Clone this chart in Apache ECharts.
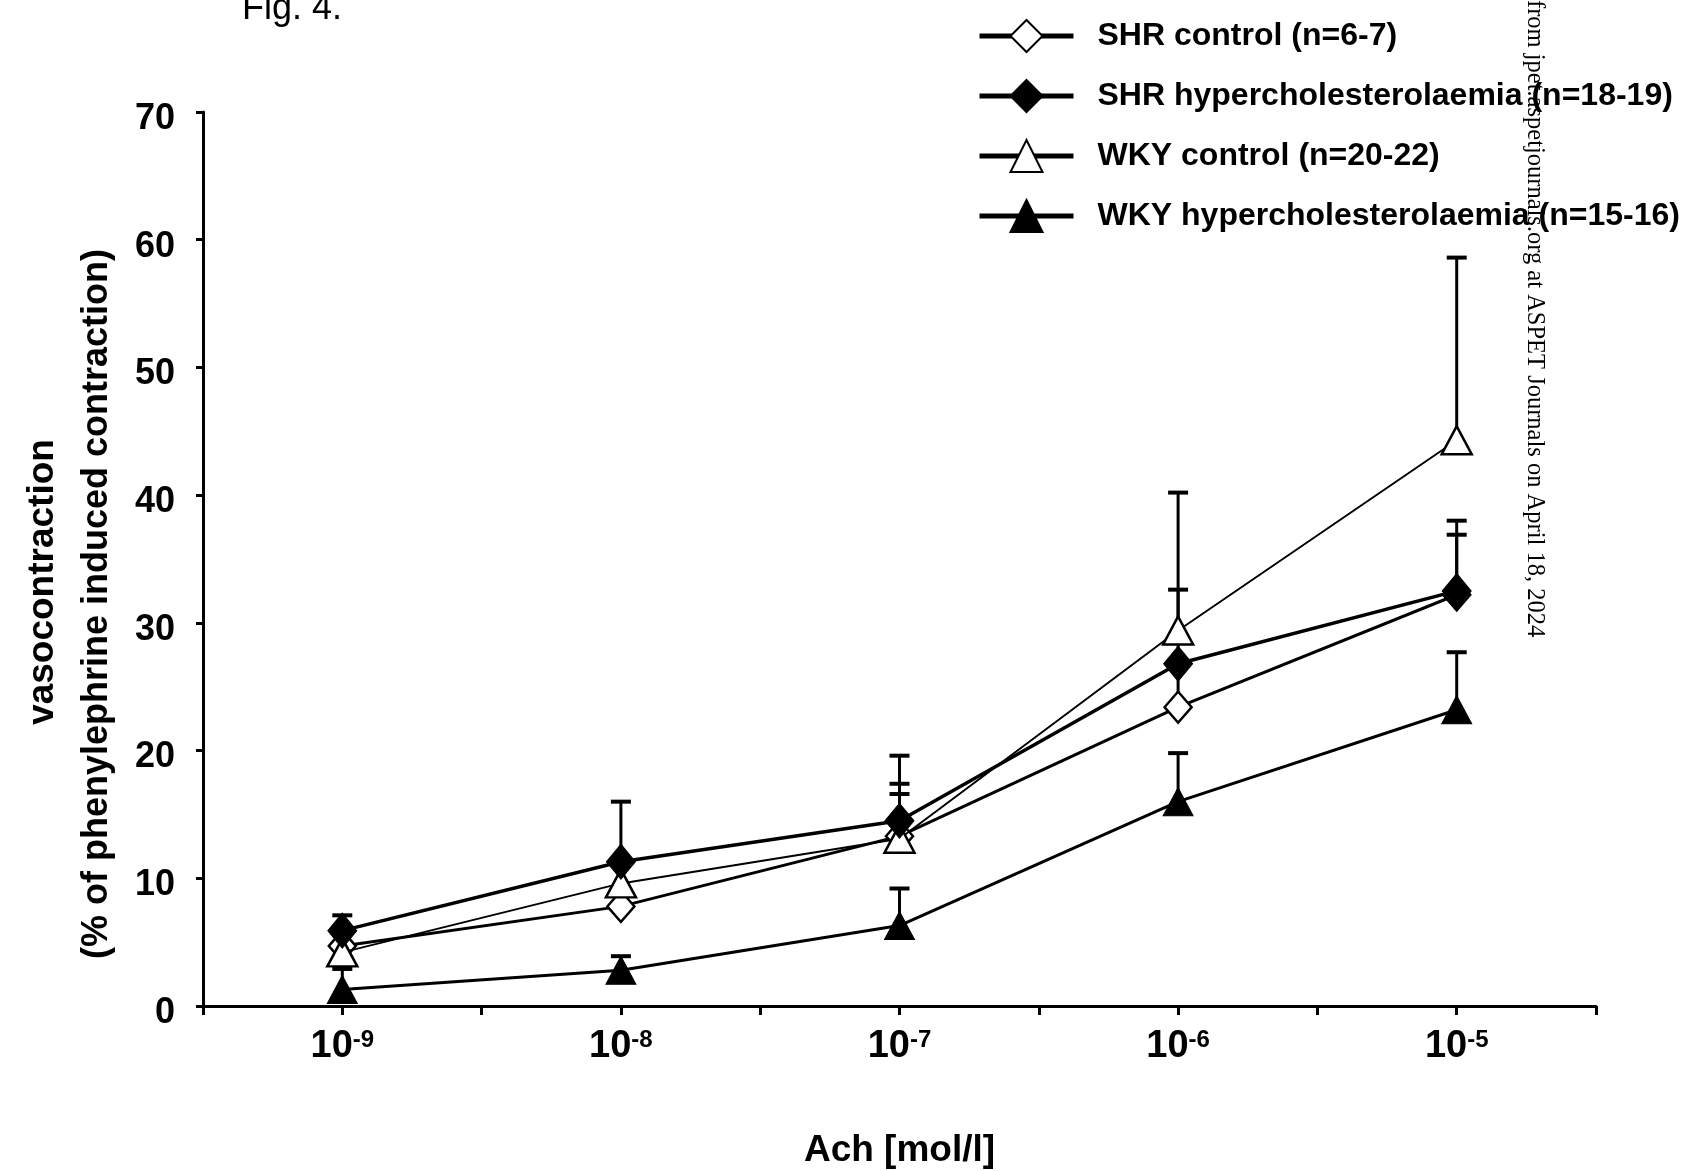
<!DOCTYPE html>
<html>
<head>
<meta charset="utf-8">
<script src="https://cdn.jsdelivr.net/npm/echarts@6/dist/echarts.min.js"></script>
<style>
html,body{margin:0;padding:0;background:#fff;}
#chart{width:1684px;height:1171px;}
</style>
</head>
<body>
<div id="chart"></div>
<script>
// log10 of Ach concentration (mol/l)
var logConc = [-9, -8, -7, -6, -5];
var tickExponents = ['-9', '-8', '-7', '-6', '-5'];

var seriesNames = [
  'SHR control (n=6-7)',
  'SHR hypercholesterolaemia (n=18-19)',
  'WKY control (n=20-22)',
  'WKY hypercholesterolaemia (n=15-16)'
];

// mean values (% of phenylephrine induced contraction)
var shrControl = [4.7, 7.8, 13.3, 23.4, 32.2];
var shrHyper   = [5.9, 11.3, 14.5, 26.8, 32.5];
var wkyControl = [4.2, 9.6, 13.1, 29.4, 44.3];
var wkyHyper   = [1.3, 2.8, 6.3, 16.0, 23.2];

// upper end of error bars (null = not visible)
var shrControlTop = [null, null, 19.6, 32.6, 38.0];
var shrHyperTop   = [7.1, 16.0, 17.4, null, 36.9];
var wkyControlTop = [null, null, 16.6, 40.2, 58.6];
var wkyHyperTop   = [2.9, 3.9, 9.2, 19.8, 27.7];

var FONT = '"Liberation Sans", Arial, sans-serif';

function pairs(vals){
  var out = [];
  for (var i = 0; i < logConc.length; i++) out.push([logConc[i], vals[i]]);
  return out;
}
function errData(vals, tops){
  var out = [];
  for (var i = 0; i < logConc.length; i++){
    if (tops[i] != null) out.push([logConc[i], vals[i], tops[i]]);
  }
  return out;
}
function errRender(params, api){
  var x = api.value(0);
  var p0 = api.coord([x, api.value(1)]);
  var p1 = api.coord([x, api.value(2)]);
  return {
    type: 'group',
    children: [
      {type: 'line', shape: {x1: p0[0], y1: p0[1], x2: p1[0], y2: p1[1]}, style: {stroke: '#000', lineWidth: 3}},
      {type: 'line', shape: {x1: p1[0] - 10, y1: p1[1], x2: p1[0] + 10, y2: p1[1]}, style: {stroke: '#000', lineWidth: 4}}
    ]
  };
}
function errSeries(vals, tops){
  return {
    type: 'custom', renderItem: errRender, data: errData(vals, tops),
    encode: {x: 0, y: [1, 2]}, z: 1, silent: true
  };
}

var chart = echarts.init(document.getElementById('chart'));
chart.setOption({
  animation: false,
  backgroundColor: '#fff',
  grid: {left: 203, right: 88, top: 112, bottom: 165, outerBoundsMode: 'none', containLabel: false},
  legend: {
    data: seriesNames,
    orient: 'vertical',
    left: 972, top: 14,
    itemWidth: 94, itemHeight: 40, itemGap: 26,
    lineStyle: {width: 5},
    textStyle: {fontFamily: FONT, fontSize: 32, fontWeight: 'bold', color: '#000', padding: [0, 0, 0, 19]}
  },
  xAxis: {
    type: 'value', min: -9.5, max: -4.5, interval: 0.5,
    splitLine: {show: false},
    axisLine: {lineStyle: {color: '#000', width: 3}},
    axisTick: {length: 9, lineStyle: {color: '#000', width: 3}},
    axisLabel: {
      margin: 22,
      formatter: function(v){
        var i = logConc.indexOf(v);
        return i < 0 ? '' : '{a|10}{b|' + tickExponents[i] + '}';
      },
      rich: {
        a: {fontFamily: FONT, fontSize: 38, fontWeight: 'bold', color: '#000', lineHeight: 38},
        b: {fontFamily: FONT, fontSize: 24, fontWeight: 'bold', color: '#000', lineHeight: 24, verticalAlign: 'top'}
      }
    },
    name: 'Ach [mol/l]', nameLocation: 'middle', nameGap: 126,
    nameTextStyle: {fontFamily: FONT, fontSize: 37, fontWeight: 'bold', color: '#000'}
  },
  yAxis: {
    type: 'value', min: 0, max: 70, interval: 10,
    splitLine: {show: false},
    axisLine: {show: true, lineStyle: {color: '#000', width: 3}},
    axisTick: {show: true, length: 7, lineStyle: {color: '#000', width: 3}},
    axisLabel: {fontFamily: FONT, fontSize: 36, fontWeight: 'bold', color: '#000', margin: 28,
      verticalAlign: 'top', lineHeight: 14}
  },
  graphic: [
    {type: 'text', x: 242, y: 9, style: {text: 'Fig. 4.', font: '36px ' + FONT, fill: '#000', verticalAlign: 'middle'}},
    {type: 'text', x: 43, y: 582, rotation: Math.PI / 2,
      style: {text: 'vasocontraction', font: 'bold 37px ' + FONT, fill: '#000', align: 'center', verticalAlign: 'middle'}},
    {type: 'text', x: 97, y: 604, rotation: Math.PI / 2,
      style: {text: '(% of phenylephrine induced contraction)', font: 'bold 36px ' + FONT, fill: '#000', align: 'center', verticalAlign: 'middle'}},
    {type: 'text', x: 1534, y: 0, rotation: -Math.PI / 2, z: 100,
      style: {text: 'from jpet.aspetjournals.org at ASPET Journals on April 18, 2024', font: '24.5px "Liberation Serif", "Times New Roman", serif', fill: '#000', align: 'left', verticalAlign: 'middle'}}
  ],
  series: [
    errSeries(shrControl, shrControlTop),
    errSeries(shrHyper, shrHyperTop),
    errSeries(wkyControl, wkyControlTop),
    errSeries(wkyHyper, wkyHyperTop),
    {
      name: seriesNames[3], type: 'line', data: pairs(wkyHyper), z: 2,
      symbol: 'triangle', symbolSize: [30, 28],
      lineStyle: {color: '#000', width: 3},
      itemStyle: {color: '#000', borderColor: '#000', borderWidth: 1}
    },
    {
      name: seriesNames[0], type: 'line', data: pairs(shrControl), z: 3,
      symbol: 'diamond', symbolSize: [27, 31],
      lineStyle: {color: '#000', width: 3},
      itemStyle: {color: '#fff', borderColor: '#000', borderWidth: 2.5}
    },
    {
      name: seriesNames[2], type: 'line', data: pairs(wkyControl), z: 4,
      symbol: 'triangle', symbolSize: [30, 28],
      lineStyle: {color: '#000', width: 2},
      itemStyle: {color: '#fff', borderColor: '#000', borderWidth: 2.5}
    },
    {
      name: seriesNames[1], type: 'line', data: pairs(shrHyper), z: 5,
      symbol: 'diamond', symbolSize: [29, 35],
      lineStyle: {color: '#000', width: 3.5},
      itemStyle: {color: '#000', borderColor: '#000', borderWidth: 1}
    }
  ]
});
</script>
</body>
</html>
